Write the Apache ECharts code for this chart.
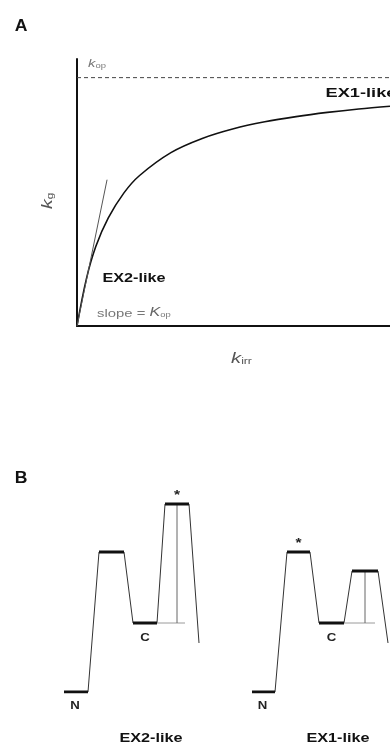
<!DOCTYPE html>
<html><head><meta charset="utf-8">
<script src="https://cdn.jsdelivr.net/npm/echarts@6/dist/echarts.min.js"></script>
<style>html,body{margin:0;padding:0;background:#fff}#c{width:390px;height:748px}</style>
</head><body><div id="c"></div>
<script>
// Panel A data (arbitrary units)
const curveX = [0, 0.3, 0.6, 1.0, 1.5, 2, 3, 4, 5, 6, 7, 8, 9, 10];
const curveY = [0, 1.9, 3.2, 4.35, 5.36, 6.06, 6.98, 7.55, 7.94, 8.22, 8.43, 8.6, 8.74, 8.85];
const tangentX = [0, 0.96];
const tangentY = [0, 5.89];
const kMax = 10;
const xMaxA = 10;
const yMaxA = 10.75;

// Panel B data: free-energy levels N, TS1, C, TS2 and final drop
const levelNames = ['N', 'TS1', 'C', 'TS2'];
const ex2Energy = [0, 14, 6.9, 18.8];
const ex1Energy = [0, 14, 6.9, 12.1];
const finalEnergy = 4.9;
const ex2LevelStart = [6.4, 9.9, 13.3, 16.5];
const ex2LevelEnd = [8.8, 12.4, 15.7, 18.9];
const ex2FinalX = 19.9;
const ex1LevelStart = [25.2, 28.7, 31.9, 35.2];
const ex1LevelEnd = [27.5, 31.0, 34.4, 37.8];
const ex1FinalX = 38.8;
const ex2RefX = 17.7, ex2RefEnd = 18.5;
const ex1RefX = 36.5, ex1RefEnd = 37.5;
const ex2Limiting = 3, ex1Limiting = 1;

const chart = echarts.init(document.getElementById('c'));

function profile(start, end, energy, fx) {
  const pts = [];
  for (let i = 0; i < start.length; i++) {
    pts.push([start[i], energy[i]]);
    pts.push([end[i], energy[i]]);
  }
  pts.push([fx, finalEnergy]);
  return pts.slice(1);
}
function levels(start, end, energy, gi) {
  return start.map((s, i) => ({
    type: 'line', xAxisIndex: gi, yAxisIndex: gi, symbol: 'none', silent: true,
    lineStyle: { color: '#111', width: 3 },
    data: [[s, energy[i]], [end[i], energy[i]]], z: 5
  }));
}
function refLines(refX, refEnd, cEnd, low, high) {
  return [
    { type: 'line', xAxisIndex: 1, yAxisIndex: 1, symbol: 'none', silent: true,
      lineStyle: { color: '#9a9a9a', width: 1 }, data: [[cEnd, low], [refEnd, low]] },
    { type: 'line', xAxisIndex: 1, yAxisIndex: 1, symbol: 'none', silent: true,
      lineStyle: { color: '#666', width: 1 }, data: [[refX, low], [refX, high]] }
  ];
}

const series = [
  { type: 'line', symbol: 'none', smooth: 0.35, silent: true,
    lineStyle: { color: '#111', width: 1.6 },
    data: curveX.map((x, i) => [x, curveY[i]]) },
  { type: 'line', symbol: 'none', silent: true,
    lineStyle: { color: '#555', width: 1 },
    data: tangentX.map((x, i) => [x, tangentY[i]]) },
  { type: 'line', symbol: 'none', silent: true,
    lineStyle: { color: '#444', width: 1, type: [4, 3] },
    data: [[0, kMax], [xMaxA, kMax]] },
  { type: 'line', xAxisIndex: 1, yAxisIndex: 1, symbol: 'none', silent: true,
    lineStyle: { color: '#333', width: 1 },
    data: profile(ex2LevelStart, ex2LevelEnd, ex2Energy, ex2FinalX) },
  { type: 'line', xAxisIndex: 1, yAxisIndex: 1, symbol: 'none', silent: true,
    lineStyle: { color: '#333', width: 1 },
    data: profile(ex1LevelStart, ex1LevelEnd, ex1Energy, ex1FinalX) },
  ...refLines(ex2RefX, ex2RefEnd, ex2LevelEnd[2], ex2Energy[2], ex2Energy[3]),
  ...refLines(ex1RefX, ex1RefEnd, ex1LevelEnd[2], ex1Energy[2], ex1Energy[3]),
  ...levels(ex2LevelStart, ex2LevelEnd, ex2Energy, 1),
  ...levels(ex1LevelStart, ex1LevelEnd, ex1Energy, 1)
];

chart.setOption({
  animation: false,
  grid: [
    { left: 77, right: 0, top: 59, bottom: 422 },
    { left: 0, right: 0, top: 492, bottom: 56 }
  ],
  xAxis: [
    { type: 'value', gridIndex: 0, min: 0, max: xMaxA,
      axisLine: { show: true, onZero: false, lineStyle: { color: '#111', width: 2 } },
      axisTick: { show: false }, axisLabel: { show: false }, splitLine: { show: false } },
    { type: 'value', gridIndex: 1, min: 0, max: 39, show: false }
  ],
  yAxis: [
    { type: 'value', gridIndex: 0, min: 0, max: yMaxA,
      axisLine: { show: true, onZero: false, lineStyle: { color: '#111', width: 2 } },
      axisTick: { show: false }, axisLabel: { show: false }, splitLine: { show: false } },
    { type: 'value', gridIndex: 1, min: 0, max: 20, show: false }
  ],
  series: series
});

const P = (g, p) => chart.convertToPixel({ gridIndex: g }, p);
const font = '"Liberation Sans", Arial, sans-serif';
const SX = 1.35;
function txt(x, y, text, style, sx) {
  return { type: 'text', x: x, y: y, silent: true, scaleX: sx || SX, originX: 0, originY: 0,
    style: Object.assign({ text: text, align: 'center', verticalAlign: 'middle',
      fontFamily: font, fill: '#111' }, style) };
}
function rich(x, y, text, richDef, extra) {
  return Object.assign({ type: 'text', x: x, y: y, silent: true, scaleX: SX, originX: 0, originY: 0,
    style: { text: text, fontFamily: font, rich: richDef } }, extra || {});
}
const g = [];
g.push(txt(21, 27, 'A', { fontSize: 16, fontWeight: 'bold' }, 1.1));
g.push(txt(21, 479, 'B', { fontSize: 16, fontWeight: 'bold' }, 1.1));

const kTop = P(0, [0, kMax]);
g.push(rich(kTop[0] + 11, kTop[1] - 21, '{k|k}{s|op}', {
  k: { fontSize: 11, fontStyle: 'italic', fill: '#777', verticalAlign: 'bottom' },
  s: { fontSize: 7, fill: '#777', padding: [6, 0, 0, 0], verticalAlign: 'bottom' } }));
g.push(txt(361, 93, 'EX1-like', { fontSize: 13, fontWeight: 'bold' }, 1.4));
g.push(txt(134, 279, 'EX2-like', { fontSize: 12, fontWeight: 'bold' }));
g.push(rich(97, 306, '{t|slope = }{k|K}{s|op}', {
  t: { fontSize: 11, fill: '#777', verticalAlign: 'bottom' },
  k: { fontSize: 12, fontStyle: 'italic', fill: '#666', verticalAlign: 'bottom' },
  s: { fontSize: 7, fill: '#777', padding: [6, 0, 0, 0], verticalAlign: 'bottom' } }));
g.push(rich(231, 349, '{k|k}{s|irr}', {
  k: { fontSize: 15, fontStyle: 'italic', fill: '#555', verticalAlign: 'bottom' },
  s: { fontSize: 9, fill: '#555', padding: [8, 0, 0, 0], verticalAlign: 'bottom' } }));
g.push({ type: 'text', x: 38, y: 209, rotation: Math.PI / 2, silent: true,
  scaleX: 1.3, originX: 0, originY: 0,
  style: { text: '{k|k}{s|g}', fontFamily: font,
    rich: { k: { fontSize: 15, fontStyle: 'italic', fill: '#555', verticalAlign: 'bottom' },
            s: { fontSize: 9, fill: '#555', padding: [8, 0, 0, 0], verticalAlign: 'bottom' } } } });

function diagramLabels(start, end, energy, limiting) {
  const n = P(1, [(start[0] + end[0]) / 2, energy[0]]);
  g.push(txt(n[0] - 1, n[1] + 14, levelNames[0], { fontSize: 11, fontWeight: 'bold', fill: '#222' }, 1.2));
  const c = P(1, [(start[2] + end[2]) / 2, energy[2]]);
  g.push(txt(c[0], c[1] + 15, levelNames[2], { fontSize: 11, fontWeight: 'bold', fill: '#222' }, 1.2));
  const s = P(1, [(start[limiting] + end[limiting]) / 2, energy[limiting]]);
  g.push(txt(s[0], s[1] - 9, '*', { fontSize: 13, fontWeight: 'bold', fill: '#222' }, 1.2));
}
diagramLabels(ex2LevelStart, ex2LevelEnd, ex2Energy, ex2Limiting);
diagramLabels(ex1LevelStart, ex1LevelEnd, ex1Energy, ex1Limiting);
g.push(txt(151, 739, 'EX2-like', { fontSize: 12, fontWeight: 'bold' }));
g.push(txt(338, 739, 'EX1-like', { fontSize: 12, fontWeight: 'bold' }));
chart.setOption({ graphic: g });
</script>
</body></html>
